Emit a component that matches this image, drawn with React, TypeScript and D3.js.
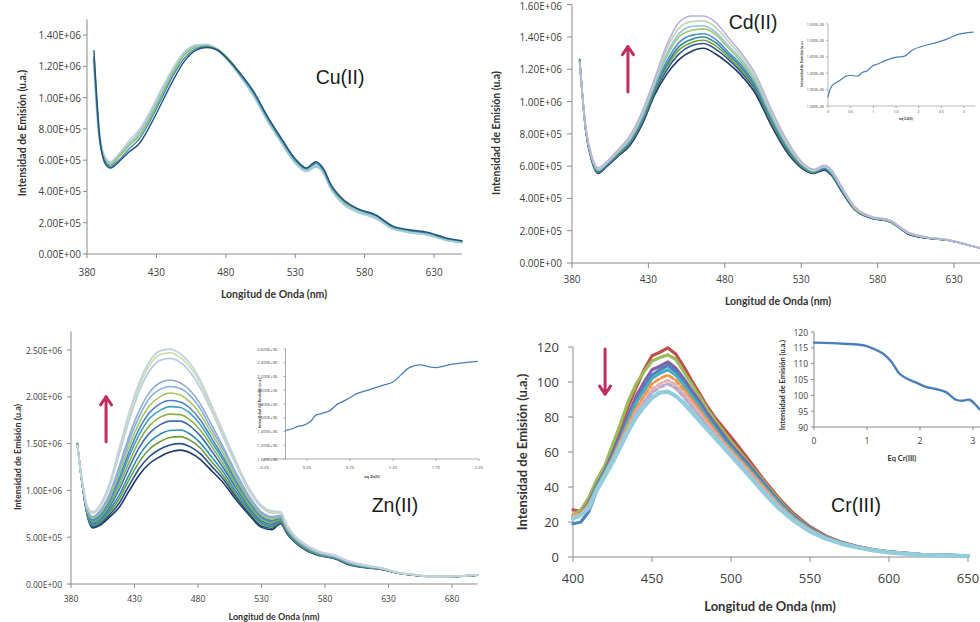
import React from "react";
import * as d3 from "d3";

// ================= DATA =================
// Shared wavelength grid (nm) for Cu(II) and Cd(II); intensities in units of 1e5 u.a.
const wavelengths = [385, 389, 393, 397, 403, 410, 418, 426, 434, 442, 450, 458, 466, 474, 482, 490, 500, 510, 520, 530, 538, 545, 550, 556, 565, 575, 588, 600, 612, 625, 638, 650];
const wavelengthsZn = [385, 389, 393, 397, 403, 410, 418, 426, 434, 442, 450, 458, 466, 474, 482, 490, 500, 510, 520, 530, 538, 545, 550, 556, 565, 575, 588, 600, 612, 625, 638, 650, 665, 680, 700];
const wavelengthsCr = [400, 405, 410, 415, 420, 425, 430, 435, 440, 445, 450, 455, 460, 465, 470, 475, 480, 485, 490, 495, 500, 510, 520, 530, 540, 550, 560, 570, 580, 590, 600, 620, 650];

// Cu(II) titration spectra (x1e5)
const cu1 = [13.0, 7.6, 5.8, 5.5, 5.9, 6.5, 7.1, 8.3, 9.7, 11.1, 12.3, 13.0, 13.2, 13.05, 12.4, 11.6, 10.4, 8.8, 7.4, 6.1, 5.5, 5.9, 5.5, 4.4, 3.45, 2.9, 2.5, 1.8, 1.55, 1.4, 1.05, 0.85];
const cu2 = [12.6, 7.4, 5.9, 5.6, 6.0, 6.7, 7.4, 8.6, 10.0, 11.4, 12.5, 13.1, 13.25, 13.0, 12.4, 11.5, 10.3, 8.7, 7.3, 6.0, 5.45, 5.8, 5.4, 4.3, 3.4, 2.85, 2.45, 1.75, 1.5, 1.35, 1.0, 0.82];
const cu3 = [12.5, 7.5, 6.0, 5.7, 6.2, 6.9, 7.6, 8.8, 10.2, 11.6, 12.7, 13.2, 13.3, 13.1, 12.5, 11.6, 10.3, 8.7, 7.3, 6.0, 5.45, 5.8, 5.4, 4.3, 3.35, 2.85, 2.45, 1.75, 1.5, 1.35, 1.0, 0.82];
const cu4 = [12.2, 7.6, 6.2, 5.9, 6.4, 7.2, 8.0, 9.2, 10.6, 11.9, 12.9, 13.35, 13.4, 13.1, 12.4, 11.5, 10.2, 8.6, 7.2, 5.9, 5.35, 5.7, 5.3, 4.2, 3.25, 2.75, 2.35, 1.7, 1.45, 1.3, 0.95, 0.78];
const cu5 = [12.4, 7.5, 6.1, 5.8, 6.3, 7.0, 7.8, 9.0, 10.4, 11.7, 12.8, 13.3, 13.35, 13.05, 12.35, 11.45, 10.15, 8.55, 7.15, 5.85, 5.3, 5.6, 5.25, 4.15, 3.2, 2.7, 2.3, 1.65, 1.4, 1.25, 0.92, 0.75];

// Cd(II) titration spectra (x1e5)
const cd1 = [12.6, 8.2, 6.3, 5.55, 6.0, 6.6, 7.3, 8.6, 10.4, 11.7, 12.6, 13.1, 13.3, 12.95, 12.4, 11.7, 10.5, 8.6, 6.95, 5.9, 5.55, 5.75, 5.4, 4.5, 3.3, 2.8, 2.55, 1.8, 1.55, 1.42, 1.15, 0.85];
const cd2 = [12.6, 8.2, 6.35, 5.6, 6.05, 6.65, 7.4, 8.7, 10.55, 11.95, 12.95, 13.45, 13.6, 13.25, 12.65, 11.9, 10.7, 8.75, 7.05, 5.95, 5.6, 5.8, 5.45, 4.55, 3.35, 2.8, 2.55, 1.8, 1.55, 1.42, 1.15, 0.85];
const cd3 = [12.55, 8.25, 6.4, 5.65, 6.1, 6.7, 7.45, 8.8, 10.65, 12.15, 13.2, 13.65, 13.8, 13.45, 12.8, 12.05, 10.8, 8.85, 7.15, 6.0, 5.6, 5.85, 5.5, 4.6, 3.35, 2.85, 2.55, 1.85, 1.55, 1.42, 1.15, 0.85];
const cd4 = [12.5, 8.25, 6.4, 5.65, 6.1, 6.75, 7.5, 8.9, 10.75, 12.3, 13.4, 13.85, 14.0, 13.65, 12.95, 12.2, 10.9, 8.95, 7.2, 6.05, 5.65, 5.85, 5.5, 4.6, 3.35, 2.85, 2.6, 1.85, 1.55, 1.43, 1.15, 0.85];
const cd5 = [12.5, 8.3, 6.45, 5.7, 6.15, 6.8, 7.55, 8.95, 10.85, 12.5, 13.65, 14.1, 14.2, 13.85, 13.1, 12.35, 11.05, 9.05, 7.3, 6.1, 5.65, 5.9, 5.55, 4.65, 3.4, 2.85, 2.6, 1.85, 1.57, 1.43, 1.15, 0.85];
const cd6 = [12.5, 8.3, 6.5, 5.75, 6.2, 6.85, 7.65, 9.1, 11.0, 12.8, 14.0, 14.4, 14.5, 14.15, 13.35, 12.55, 11.2, 9.2, 7.4, 6.15, 5.7, 5.95, 5.6, 4.7, 3.4, 2.85, 2.6, 1.85, 1.58, 1.44, 1.15, 0.85];
const cd7 = [12.45, 8.35, 6.5, 5.8, 6.2, 6.9, 7.7, 9.15, 11.1, 12.95, 14.2, 14.65, 14.7, 14.3, 13.5, 12.7, 11.35, 9.3, 7.5, 6.2, 5.7, 5.95, 5.65, 4.7, 3.45, 2.85, 2.6, 1.85, 1.58, 1.44, 1.15, 0.85];
const cd8 = [12.4, 8.35, 6.55, 5.85, 6.25, 6.95, 7.8, 9.3, 11.25, 13.25, 14.55, 14.95, 15.0, 14.6, 13.75, 12.9, 11.5, 9.45, 7.6, 6.25, 5.75, 6.0, 5.7, 4.75, 3.45, 2.9, 2.65, 1.9, 1.6, 1.45, 1.15, 0.85];
const cd9 = [12.4, 8.4, 6.6, 5.9, 6.3, 7.0, 7.9, 9.4, 11.4, 13.5, 14.9, 15.3, 15.3, 14.9, 14.0, 13.1, 11.7, 9.6, 7.7, 6.3, 5.8, 6.05, 5.75, 4.8, 3.5, 2.9, 2.65, 1.9, 1.6, 1.45, 1.15, 0.85];

// Zn(II) titration spectra (x1e5)
const zn1 = [14.8, 10.8, 8.2, 7.7, 8.5, 10.6, 14.5, 18.4, 21.6, 23.8, 24.9, 25.1, 24.6, 23.5, 21.7, 19.3, 16.2, 13.1, 10.3, 8.4, 7.8, 7.7, 6.3, 5.2, 4.2, 3.5, 3.05, 2.4, 2.0, 1.7, 1.2, 1.0, 0.8, 0.82, 0.98];
const zn2 = [14.8, 10.8, 8.2, 7.6, 8.4, 10.5, 14.3, 18.1, 21.2, 23.4, 24.5, 24.7, 24.2, 23.1, 21.4, 19.0, 16.0, 12.9, 10.2, 8.3, 7.7, 7.65, 6.25, 5.15, 4.2, 3.5, 3.05, 2.4, 2.0, 1.7, 1.2, 1.0, 0.8, 0.82, 0.98];
const zn3 = [14.8, 10.8, 8.1, 7.55, 8.3, 10.3, 13.9, 17.6, 20.7, 22.8, 23.9, 24.1, 23.7, 22.6, 20.9, 18.7, 15.7, 12.7, 10.0, 8.2, 7.6, 7.6, 6.2, 5.1, 4.15, 3.45, 3.0, 2.35, 1.98, 1.68, 1.2, 1.0, 0.8, 0.82, 0.97];
const zn4 = [14.9, 10.7, 7.9, 7.2, 7.85, 9.55, 12.6, 15.9, 18.6, 20.5, 21.5, 21.8, 21.5, 20.65, 19.2, 17.2, 14.6, 11.9, 9.45, 7.7, 7.2, 7.35, 6.05, 5.0, 4.0, 3.35, 2.95, 2.3, 1.93, 1.65, 1.19, 0.99, 0.79, 0.81, 0.97];
const zn5 = [14.9, 10.7, 7.85, 7.1, 7.7, 9.35, 12.2, 15.4, 18.0, 19.9, 20.8, 21.1, 20.9, 20.1, 18.7, 16.7, 14.3, 11.6, 9.25, 7.55, 7.1, 7.25, 6.0, 4.95, 4.0, 3.35, 2.9, 2.25, 1.9, 1.65, 1.18, 0.98, 0.79, 0.81, 0.97];
const zn6 = [14.9, 10.7, 7.75, 7.0, 7.55, 9.1, 11.8, 14.8, 17.3, 19.1, 20.0, 20.4, 20.2, 19.4, 18.1, 16.25, 13.9, 11.3, 9.05, 7.4, 6.95, 7.15, 5.9, 4.9, 3.95, 3.3, 2.9, 2.25, 1.9, 1.64, 1.18, 0.98, 0.79, 0.81, 0.97];
const zn7 = [14.9, 10.65, 7.7, 6.85, 7.4, 8.85, 11.35, 14.2, 16.65, 18.35, 19.25, 19.6, 19.45, 18.75, 17.5, 15.75, 13.5, 11.05, 8.85, 7.2, 6.8, 7.05, 5.85, 4.85, 3.9, 3.25, 2.85, 2.2, 1.88, 1.62, 1.17, 0.97, 0.79, 0.81, 0.96];
const zn8 = [14.9, 10.6, 7.65, 6.75, 7.25, 8.65, 11.0, 13.7, 16.05, 17.7, 18.55, 18.95, 18.85, 18.2, 17.0, 15.3, 13.2, 10.8, 8.7, 7.1, 6.7, 7.0, 5.8, 4.8, 3.85, 3.25, 2.85, 2.2, 1.86, 1.62, 1.17, 0.97, 0.79, 0.81, 0.96];
const zn9 = [14.95, 10.6, 7.55, 6.65, 7.1, 8.4, 10.55, 13.1, 15.35, 16.95, 17.8, 18.15, 18.1, 17.5, 16.4, 14.85, 12.8, 10.5, 8.45, 6.9, 6.55, 6.9, 5.75, 4.75, 3.8, 3.2, 2.85, 2.15, 1.84, 1.61, 1.17, 0.97, 0.78, 0.8, 0.96];
const zn10 = [14.95, 10.6, 7.5, 6.5, 6.95, 8.15, 10.1, 12.5, 14.65, 16.15, 17.0, 17.4, 17.4, 16.85, 15.8, 14.35, 12.4, 10.25, 8.25, 6.75, 6.4, 6.85, 5.65, 4.7, 3.8, 3.2, 2.8, 2.1, 1.83, 1.6, 1.17, 0.97, 0.78, 0.8, 0.96];
const zn11 = [14.95, 10.55, 7.4, 6.35, 6.75, 7.85, 9.5, 11.75, 13.8, 15.2, 16.0, 16.4, 16.45, 16.0, 15.05, 13.7, 11.95, 9.85, 8.0, 6.55, 6.2, 6.7, 5.6, 4.65, 3.75, 3.15, 2.75, 2.1, 1.8, 1.58, 1.16, 0.96, 0.78, 0.8, 0.95];
const zn12 = [15.0, 10.55, 7.35, 6.25, 6.6, 7.6, 9.1, 11.2, 13.1, 14.45, 15.2, 15.65, 15.75, 15.35, 14.5, 13.2, 11.55, 9.55, 7.8, 6.4, 6.1, 6.6, 5.55, 4.6, 3.7, 3.1, 2.75, 2.05, 1.8, 1.57, 1.15, 0.96, 0.78, 0.8, 0.95];
const zn13 = [15.0, 10.5, 7.3, 6.1, 6.45, 7.35, 8.65, 10.6, 12.4, 13.65, 14.4, 14.85, 15.0, 14.65, 13.9, 12.7, 11.2, 9.3, 7.6, 6.2, 5.95, 6.55, 5.45, 4.55, 3.65, 3.1, 2.7, 2.05, 1.77, 1.56, 1.15, 0.95, 0.78, 0.8, 0.95];
const zn14 = [15.0, 10.5, 7.2, 6.0, 6.3, 7.1, 8.2, 10.0, 11.7, 12.9, 13.6, 14.1, 14.3, 14.0, 13.3, 12.2, 10.8, 9.0, 7.4, 6.05, 5.8, 6.45, 5.4, 4.5, 3.6, 3.05, 2.7, 2.0, 1.75, 1.55, 1.15, 0.95, 0.78, 0.8, 0.95];

// Cr(III) titration spectra (u.a.)
const crRed = [27, 26, 32, 42, 50, 61, 73, 86, 97, 107, 115, 117, 119.5, 116, 109, 101, 93.5, 86, 79.5, 74, 68.5, 57, 45, 34, 24.5, 17.3, 12, 8.5, 6, 4.2, 3.0, 1.5, 0.6];
const crGreen = [24, 27, 34, 44, 52, 64, 76, 89, 99, 106, 112, 114, 115.5, 113, 106, 99, 92, 84.5, 78, 72, 66, 55, 44, 33, 23.5, 16.8, 11.6, 8.3, 5.9, 4.1, 2.9, 1.4, 0.6];
const crPurple = [23, 25, 31, 41, 49, 59, 70, 81, 92, 100, 107, 109, 111.5, 108, 102, 95.5, 89, 82, 76, 70, 64, 54, 43, 32, 23, 16.5, 11.3, 8.1, 5.8, 4.0, 2.9, 1.4, 0.6];
const crBlue = [19, 20, 26, 38, 48, 57, 68, 80, 89, 97, 104, 107, 109.5, 106, 100, 93.5, 87, 80.5, 74.5, 69, 63, 53, 42, 31.5, 22.7, 16.1, 11.2, 8, 5.7, 4, 2.8, 1.4, 0.6];
const crAqua = [22, 24, 30, 40, 48, 57, 67, 78, 88, 95, 102, 105, 107, 104, 98.5, 92, 86, 79.5, 73, 67, 62, 52, 41.5, 31, 22.3, 15.9, 11, 7.9, 5.6, 3.9, 2.8, 1.35, 0.55];
const crOrange = [24, 25, 30, 39, 47, 56, 66, 76, 85, 92, 99, 102, 104, 101, 96, 90, 84, 78, 72, 66, 61, 51, 40.5, 30, 21.7, 15.6, 10.9, 7.8, 5.6, 3.9, 2.7, 1.3, 0.55];
const crPink = [23, 24, 29, 38, 47, 55, 65, 74, 83, 89, 96, 99, 101, 98.5, 93.5, 88, 82, 76, 70.5, 65, 60, 50, 39.5, 29.5, 21.3, 15.3, 10.8, 7.7, 5.5, 3.9, 2.7, 1.3, 0.5];
const crLavender = [22, 24, 29, 38, 46, 54, 64, 73, 82, 88, 94, 97, 99, 96.5, 91.5, 86, 80.5, 74.5, 69.5, 64, 59, 49, 38.5, 29, 21, 15, 10.7, 7.6, 5.5, 3.85, 2.65, 1.25, 0.5];
const crLightBlue = [22, 24, 28, 38, 46, 54, 63, 72, 80, 86, 91, 94, 94.5, 92, 88, 83, 78, 73, 68, 63, 58, 48, 37.5, 28, 20.5, 14.5, 10.5, 7.5, 5.4, 3.8, 2.6, 1.2, 0.5];

// Insets (titration curves)
const cdEq = [0, 0.05, 0.11, 0.26, 0.4, 0.51, 0.66, 0.77, 0.86, 0.99, 1.1, 1.29, 1.51, 1.69, 1.88, 2.1, 2.39, 2.61, 2.83, 3.01, 3.2];
const cdPeak = [1.328, 1.352, 1.365, 1.378, 1.391, 1.393, 1.392, 1.403, 1.407, 1.423, 1.428, 1.44, 1.449, 1.452, 1.472, 1.483, 1.493, 1.503, 1.517, 1.522, 1.525]; // x1e6
const znEq = [0, 0.08, 0.15, 0.21, 0.29, 0.35, 0.42, 0.52, 0.6, 0.71, 0.83, 0.98, 1.13, 1.25, 1.34, 1.44, 1.56, 1.67, 1.75, 1.94, 2.23];
const znPeak = [1.415, 1.44, 1.478, 1.49, 1.546, 1.634, 1.66, 1.707, 1.795, 1.863, 1.95, 2.01, 2.07, 2.12, 2.22, 2.33, 2.37, 2.34, 2.33, 2.38, 2.42]; // x1e6
const crEq = [0, 0.55, 0.93, 1.11, 1.3, 1.46, 1.61, 1.74, 1.93, 2.11, 2.3, 2.49, 2.68, 2.8, 2.93, 3.05, 3.11, 3.2];
const crPeak = [116.65, 116.3, 115.8, 114.8, 113.2, 110.6, 106.9, 105.4, 104.0, 102.7, 102.0, 101.0, 98.6, 98.3, 98.6, 97.0, 95.9, 94.5];

// Ticks
const ticksWl = [380, 430, 480, 530, 580, 630];
const ticksWlZn = [380, 430, 480, 530, 580, 630, 680];
const ticksWlCr = [400, 450, 500, 550, 600, 650];
const ticksCu = [0, 2, 4, 6, 8, 10, 12, 14];
const ticksCd = [0, 2, 4, 6, 8, 10, 12, 14, 16];
const ticksZn = [0, 5, 10, 15, 20, 25];
const ticksCr = [0, 20, 40, 60, 80, 100, 120];
const ticksCdInsetY = [1.3, 1.35, 1.4, 1.45, 1.5, 1.55];
const ticksCdInsetX = [0, 0.5, 1, 1.5, 2, 2.5, 3];
const ticksZnInsetY = [1.0, 1.2, 1.4, 1.6, 1.8, 2.0, 2.2, 2.4, 2.6];
const ticksZnInsetX = [-0.25, 0.25, 0.75, 1.25, 1.75, 2.25];
const ticksCrInsetY = [90, 95, 100, 105, 110, 115, 120];
const ticksCrInsetX = [0, 1, 2, 3];

// ================= HELPERS =================
const fmtE = (v: number, digits: number) => {
  const [m, e] = v.toExponential(digits).split("e");
  return `${m}E${e[0]}${e.slice(1).padStart(2, "0")}`;
};

const AXIS = "#8a8a8a";
const TICKTXT = "#404040";
const TICKFONT = "'Open Sans', 'DejaVu Sans', sans-serif";
const TITLEFONT = "Lato, 'Open Sans', sans-serif";
const ARROW = "#bf2f5d";

type LineSpec = { xs: number[]; ys: number[]; color: string; width: number; dash?: string };

type PanelProps = {
  xScale: d3.ScaleLinear<number, number>;
  yScale: d3.ScaleLinear<number, number>;
  xTicks: number[];
  yTicks: number[];
  xFmt: (v: number) => string;
  yFmt: (v: number) => string;
  tickSize: number;
  tickLen: number;
  yGap: number;
  xGap: number;
  yAxisAt?: number;
  xAxisAt?: number;
  lines: LineSpec[];
  curve?: d3.CurveFactory;
  xTitle?: string;
  yTitle?: string;
  titleSize?: number;
  xTitlePos?: [number, number];
  yTitlePos?: [number, number];
  axisWidth?: number;
};

function Panel(p: PanelProps) {
  const { xScale, yScale } = p;
  const [x0, x1] = xScale.range();
  const [y0, y1] = yScale.range();
  const ax = xScale(p.yAxisAt ?? xScale.domain()[0]);
  const ay = yScale(p.xAxisAt ?? yScale.domain()[0]);
  const gen = (l: LineSpec) =>
    d3
      .line<number>()
      .x((_, i) => xScale(l.xs[i]))
      .y((d) => yScale(d))
      .curve(p.curve ?? d3.curveMonotoneX)(l.ys) ?? "";
  const aw = p.axisWidth ?? 1;
  // keep tick labels inside the picture (the topmost Cd label sits at the very edge)
  const labelY = (t: number) => Math.max(yScale(t), p.tickSize * 0.62);
  return (
    <g>
      <line x1={ax} x2={ax} y1={y0} y2={y1} stroke={AXIS} strokeWidth={aw} />
      <line x1={x0} x2={x1} y1={ay} y2={ay} stroke={AXIS} strokeWidth={aw} />
      {p.yTicks.map((t) => (
        <g key={"y" + t}>
          <line x1={ax - p.tickLen} x2={ax} y1={yScale(t)} y2={yScale(t)} stroke={AXIS} strokeWidth={aw} />
          <text x={ax - p.yGap} y={labelY(t)} textAnchor="end" dominantBaseline="central" fontSize={p.tickSize} fill={TICKTXT} fontFamily={TICKFONT}>
            {p.yFmt(t)}
          </text>
        </g>
      ))}
      {p.xTicks.map((t) => (
        <g key={"x" + t}>
          <line x1={xScale(t)} x2={xScale(t)} y1={ay} y2={ay + p.tickLen} stroke={AXIS} strokeWidth={aw} />
          <text x={xScale(t)} y={ay + p.xGap} textAnchor="middle" dominantBaseline="central" fontSize={p.tickSize} fill={TICKTXT} fontFamily={TICKFONT}>
            {p.xFmt(t)}
          </text>
        </g>
      ))}
      {p.lines.map((l, i) => (
        <path key={i} d={gen(l)} fill="none" stroke={l.color} strokeWidth={l.width} strokeDasharray={l.dash} strokeLinejoin="round" strokeLinecap="round" />
      ))}
      {p.xTitle && p.xTitlePos && (
        <text x={p.xTitlePos[0]} y={p.xTitlePos[1]} textAnchor="middle" dominantBaseline="central" fontSize={p.titleSize} fontWeight="bold" fill="#333" fontFamily={TITLEFONT}>
          {p.xTitle}
        </text>
      )}
      {p.yTitle && p.yTitlePos && (
        <text transform={`translate(${p.yTitlePos[0]},${p.yTitlePos[1]}) rotate(-90)`} textAnchor="middle" dominantBaseline="central" fontSize={p.titleSize} fontWeight="bold" fill="#333" fontFamily={TITLEFONT}>
          {p.yTitle}
        </text>
      )}
    </g>
  );
}

function Arrow({ x, yFrom, yTo }: { x: number; yFrom: number; yTo: number }) {
  const dir = yTo < yFrom ? 1 : -1;
  return (
    <g stroke={ARROW} strokeWidth={3} fill="none" strokeLinecap="round" strokeLinejoin="round">
      <line x1={x} x2={x} y1={yFrom} y2={yTo} />
      <path d={`M${x - 5.5},${yTo + dir * 8} L${x},${yTo} L${x + 5.5},${yTo + dir * 8}`} />
    </g>
  );
}

const Label = ({ x, y, text }: { x: number; y: number; text: string }) => (
  <text x={x} y={y} textAnchor="middle" dominantBaseline="central" fontSize={19.5} fill="#1a1a1a" fontFamily="'Liberation Sans', Arial, sans-serif">
    {text}
  </text>
);

const mk = (xs: number[], ys: number[], color: string, width: number, dash?: string): LineSpec => ({ xs, ys, color, width, dash });

export default function App() {
  const wlFmt = (v: number) => String(v);
  const e5 = (v: number) => fmtE(v * 1e5, 2);

  // ---- Cu(II) ----
  const xCu = d3.scaleLinear([380, 650], [87, 461.8]);
  const yCu = d3.scaleLinear([0, 15], [254, 19.4]);
  const cuLines = [
    mk(wavelengths, cu4, "#c6d4e3", 1.8),
    mk(wavelengths, cu5, "#a4cbd8", 2.6),
    mk(wavelengths, cu3, "#9bbb59", 1.4),
    mk(wavelengths, cu2, "#3a8fb0", 1.4),
    mk(wavelengths, cu1, "#23527c", 1.4),
  ];

  // ---- Cd(II) ----
  const xCd = d3.scaleLinear([380, 650], [572, 984.6]);
  const yCd = d3.scaleLinear([0, 16], [263, 4.7]);
  const cdLines = [
    mk(wavelengths, cd1, "#1f3864", 1.6),
    mk(wavelengths, cd2, "#2f5597", 1.6),
    mk(wavelengths, cd3, "#77a13a", 1.6),
    mk(wavelengths, cd4, "#31859c", 1.6),
    mk(wavelengths, cd5, "#4f8fd0", 1.6),
    mk(wavelengths, cd6, "#a6c46e", 1.6),
    mk(wavelengths, cd7, "#8fc3e0", 1.6),
    mk(wavelengths, cd8, "#c5d6b8", 1.8),
    mk(wavelengths, cd9, "#b9b0dc", 1.6),
  ];
  const xCdIn = d3.scaleLinear([0, 3.25], [828, 975.3]);
  const yCdIn = d3.scaleLinear([1.3, 1.55], [106, 24]);

  // ---- Zn(II) ----
  const xZn = d3.scaleLinear([380, 700], [71, 477.4]);
  const yZn = d3.scaleLinear([0, 27], [584, 331.3]);
  const znLines = [
    mk(wavelengthsZn, zn14, "#1b3a6b", 1.6),
    mk(wavelengthsZn, zn13, "#24508a", 1.6),
    mk(wavelengthsZn, zn12, "#6e9a3a", 1.6),
    mk(wavelengthsZn, zn11, "#2c8db5", 1.6),
    mk(wavelengthsZn, zn10, "#3b6fb0", 1.6),
    mk(wavelengthsZn, zn9, "#8cb04a", 1.6),
    mk(wavelengthsZn, zn8, "#3ea1c4", 1.6),
    mk(wavelengthsZn, zn7, "#4f81bd", 1.6),
    mk(wavelengthsZn, zn6, "#a9c45c", 1.6),
    mk(wavelengthsZn, zn5, "#7fb3dc", 1.6),
    mk(wavelengthsZn, zn4, "#93a9d6", 1.6),
    mk(wavelengthsZn, zn3, "#b5cde6", 1.8),
    mk(wavelengthsZn, zn2, "#d3dfaa", 1.8),
    mk(wavelengthsZn, zn1, "#c3d1e0", 1.8),
  ];
  const xZnIn = d3.scaleLinear([-0.25, 2.25], [264, 479]);
  const yZnIn = d3.scaleLinear([1.0, 2.6], [459, 349]);

  // ---- Cr(III) ----
  const xCr = d3.scaleLinear([400, 650], [573, 968]);
  const yCr = d3.scaleLinear([0, 120], [557, 347]);
  const crLines = [
    mk(wavelengthsCr, crRed, "#c0504d", 3.2),
    mk(wavelengthsCr, crGreen, "#9bbb59", 3.2),
    mk(wavelengthsCr, crPurple, "#8064a2", 3.2),
    mk(wavelengthsCr, crBlue, "#4f81bd", 3.2),
    mk(wavelengthsCr, crAqua, "#4bacc6", 3.2),
    mk(wavelengthsCr, crOrange, "#f79646", 3, "5,3"),
    mk(wavelengthsCr, crPink, "#e6b0ae", 3, "5,3"),
    mk(wavelengthsCr, crLavender, "#b8a9cf", 3, "5,3"),
    mk(wavelengthsCr, crLightBlue, "#93cddd", 4.2),
  ];
  const xCrIn = d3.scaleLinear([0, 3.5], [814, 999.5]);
  const yCrIn = d3.scaleLinear([90, 120], [427, 332]);

  return (
    <svg width={980} height={622} style={{ position: "absolute", left: 0, top: 0, background: "#fff" }}>
      <rect width={980} height={622} fill="#fff" />

      {/* Cu(II) */}
      <Panel xScale={xCu} yScale={yCu} xTicks={ticksWl} yTicks={ticksCu} xFmt={wlFmt} yFmt={e5} tickSize={10} tickLen={4} yGap={6} xGap={18}
        lines={cuLines} xTitle="Longitud de Onda (nm)" yTitle="Intensidad de Emisión (u.a.)" titleSize={10.5} xTitlePos={[274, 294]} yTitlePos={[22, 133]} />
      <Label x={340} y={77} text="Cu(II)" />

      {/* Cd(II) */}
      <Panel xScale={xCd} yScale={yCd} xTicks={ticksWl} yTicks={ticksCd} xFmt={wlFmt} yFmt={e5} tickSize={10} tickLen={5} yGap={10} xGap={16}
        lines={cdLines} xTitle="Longitud de Onda (nm)" yTitle="Intensidad de Emisión (u.a)" titleSize={10.5} xTitlePos={[778, 301]} yTitlePos={[496, 133]} />
      <Label x={753} y={22} text="Cd(II)" />
      <Arrow x={xCd(416.6)} yFrom={yCd(10.6)} yTo={yCd(13.4)} />
      <Panel xScale={xCdIn} yScale={yCdIn} xTicks={ticksCdInsetX} yTicks={ticksCdInsetY} xFmt={(v) => String(v)} yFmt={(v) => fmtE(v * 1e6, 3)} tickSize={3.6} tickLen={2} yGap={4} xGap={5} axisWidth={0.6}
        lines={[mk(cdEq, cdPeak, "#4a7ebb", 1.2)]} curve={d3.curveCatmullRom} xTitle="eq Cd(II)" yTitle="Intensidad de Emisión (u.a.)" titleSize={3.8} xTitlePos={[906, 118]} yTitlePos={[801, 64]} />

      {/* Zn(II) */}
      <Panel xScale={xZn} yScale={yZn} xTicks={ticksWlZn} yTicks={ticksZn} xFmt={wlFmt} yFmt={e5} tickSize={8.5} tickLen={4} yGap={9} xGap={14}
        lines={znLines} xTitle="Longitud de Onda (nm)" yTitle="Intensidad de Emisión (u.a)" titleSize={9} xTitlePos={[274, 616]} yTitlePos={[17, 457]} />
      <Label x={395} y={505} text="Zn(II)" />
      <Arrow x={xZn(407.6)} yFrom={yZn(15.2)} yTo={yZn(20.0)} />
      <Panel xScale={xZnIn} yScale={yZnIn} xTicks={ticksZnInsetX} yTicks={ticksZnInsetY} xFmt={(v) => String(v)} yFmt={(v) => fmtE(v * 1e6, 3)} tickSize={4.2} tickLen={2} yGap={8} xGap={8} yAxisAt={0} axisWidth={0.7}
        lines={[mk(znEq, znPeak, "#4a7ebb", 1.3)]} curve={d3.curveCatmullRom} xTitle="eq Zn(II)" yTitle="Intensidad de Emisión (u.a.)" titleSize={4.2} xTitlePos={[372, 476]} yTitlePos={[259, 403]} />

      {/* Cr(III) */}
      <Panel xScale={xCr} yScale={yCr} xTicks={ticksWlCr} yTicks={ticksCr} xFmt={wlFmt} yFmt={(v) => String(v)} tickSize={13} tickLen={5} yGap={14} xGap={21}
        lines={crLines} curve={d3.curveLinear} xTitle="Longitud de Onda (nm)" yTitle="Intensidad de Emisión (u.a.)" titleSize={13} xTitlePos={[770, 606]} yTitlePos={[522, 452]} />
      <Label x={856} y={505} text="Cr(III)" />
      <Arrow x={xCr(420.3)} yFrom={yCr(118.9)} yTo={yCr(93.1)} />
      <Panel xScale={xCrIn} yScale={yCrIn} xTicks={ticksCrInsetX} yTicks={ticksCrInsetY} xFmt={(v) => String(v)} yFmt={(v) => String(v)} tickSize={8.5} tickLen={3} yGap={6} xGap={13}
        lines={[mk(crEq, crPeak, "#4a7ebb", 2.4)]} curve={d3.curveCatmullRom} xTitle="Eq Cr(III)" yTitle="Intensidad de Emisión (u.a.)" titleSize={7.5} xTitlePos={[902, 458]} yTitlePos={[782, 385]} />
    </svg>
  );
}
